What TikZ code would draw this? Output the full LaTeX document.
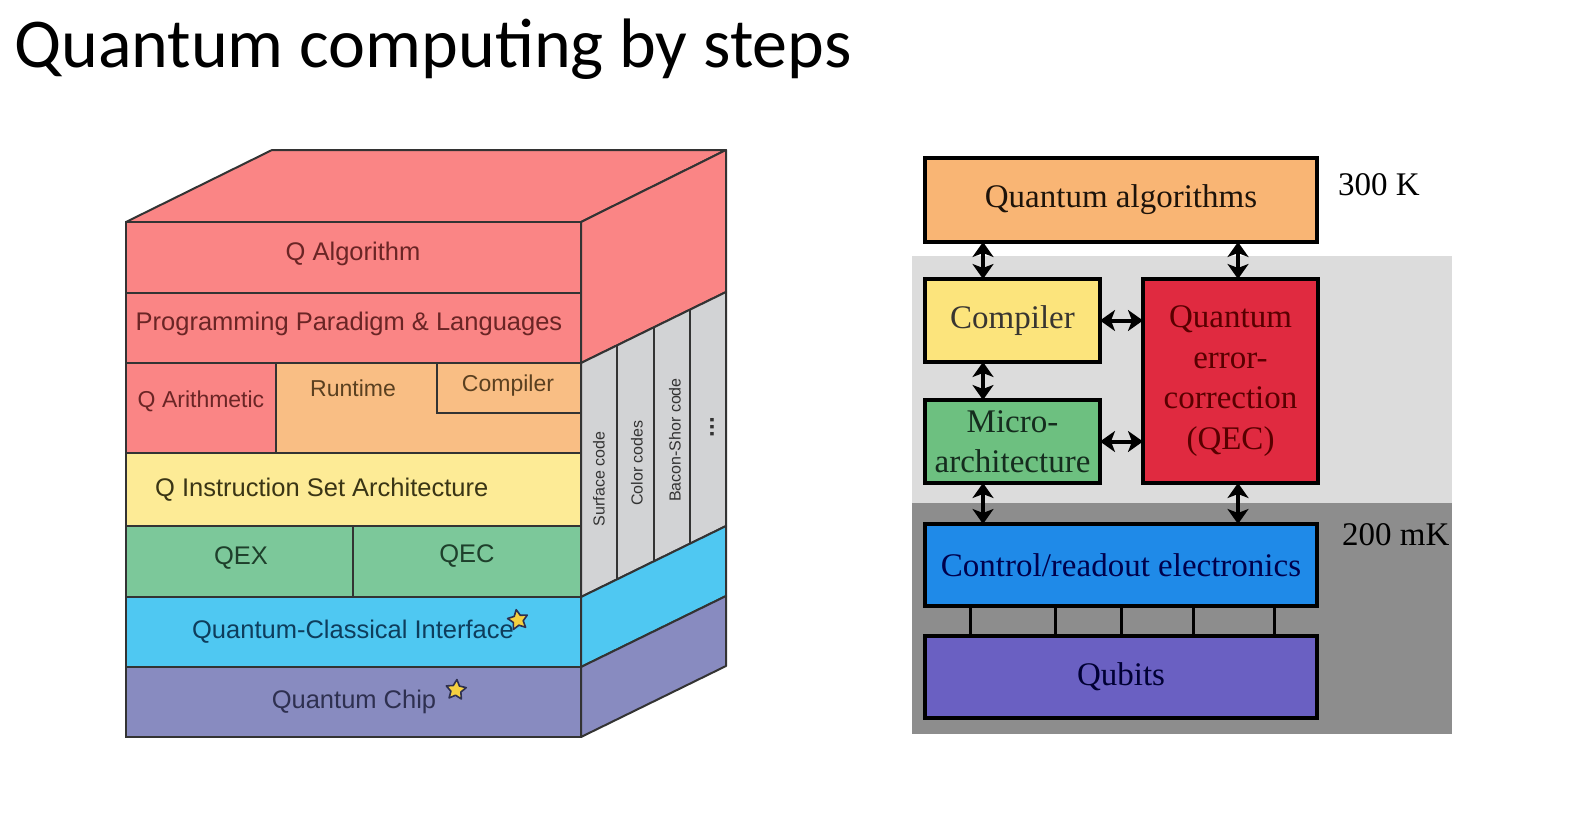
\documentclass[tikz,border=0pt]{standalone}
\usepackage{fontspec}
\setmainfont{Liberation Serif}
\newfontfamily\cubefont{Liberation Sans}
\newfontfamily\titlefont{Carlito}
\usetikzlibrary{arrows.meta,shapes.geometric}
\definecolor{cred}{HTML}{FA8585}
\definecolor{corange}{HTML}{F9BE84}
\definecolor{cyellow}{HTML}{FDEB96}
\definecolor{cgreen}{HTML}{7CC89A}
\definecolor{cblue}{HTML}{4FC8F2}
\definecolor{cpurple}{HTML}{888BC0}
\definecolor{cgray}{HTML}{D2D3D5}
\definecolor{cline}{HTML}{333333}
\definecolor{tred}{HTML}{6A2525}
\definecolor{torange}{HTML}{5A4020}
\definecolor{tyellow}{HTML}{3A3515}
\definecolor{tgreen}{HTML}{1E3F2B}
\definecolor{tblue}{HTML}{0E3D5C}
\definecolor{tpurple}{HTML}{2E3050}
\definecolor{panelL}{HTML}{DCDCDC}
\definecolor{panelD}{HTML}{8D8D8D}
\definecolor{ralg}{HTML}{F9B574}
\definecolor{rcomp}{HTML}{FCE47C}
\definecolor{rmicro}{HTML}{6DC080}
\definecolor{rqec}{HTML}{E02A40}
\definecolor{rctrl}{HTML}{1F8AE8}
\definecolor{rqubit}{HTML}{6A60C2}
\definecolor{starY}{HTML}{F5D040}
\tikzset{
  layer/.style={draw=cline, line width=2pt, inner sep=0pt, outer sep=0pt},
  side/.style={draw=cline, line width=2pt, line join=round},
  ctxt/.style={font=\cubefont\fontsize{25.5}{30}\selectfont, inner sep=0pt},
  stxt/.style={font=\cubefont\fontsize{23}{28}\selectfont, inner sep=0pt},
  coltxt/.style={font=\cubefont\fontsize{16}{19}\selectfont, inner sep=0pt, rotate=90, text=cline},
  rbox/.style={draw=black, line width=3.5pt, inner sep=0pt, outer sep=0pt, align=center,
    font=\fontsize{33}{40.5}\selectfont},
  dar/.style={line width=4pt, {Stealth[length=15pt,width=21pt,inset=4pt]}-{Stealth[length=15pt,width=21pt,inset=4pt]}},
  wire/.style={line width=3pt, draw=black},
  starnode/.style={star, star points=5, star point ratio=2.0, minimum size=21pt, inner sep=0pt,
    fill=starY, draw=tpurple, line width=1.6pt, line join=round},
  tlbl/.style={font=\fontsize{33}{40}\selectfont, inner sep=0pt}
}
\begin{document}
\begin{tikzpicture}[x=1pt,y=-1pt]
\useasboundingbox (0,0) rectangle (1583,822);
\fill[white] (0,0) rectangle (1583,822);

% title
\node[anchor=base west, inner sep=0pt, font=\titlefont\fontsize{70}{84}\selectfont] (title) at (14,67) {Quantum computing by steps};

% ---------- cube ----------
% top face
\path[side, fill=cred] (126,222) -- (272,150) -- (726,150) -- (581,222) -- cycle;
% side faces
\path[side, fill=cred] (581,222) -- (726,150) -- (726,292) -- (581,363) -- cycle;
\path[side, fill=cgray] (581,363) -- (726,292) -- (726,526) -- (581,597) -- cycle;
\path[side, fill=cblue] (581,597) -- (726,526) -- (726,596) -- (581,667) -- cycle;
\path[side, fill=cpurple] (581,667) -- (726,596) -- (726,666) -- (581,737) -- cycle;
\draw[cline, line width=2pt] (617.25,345.2) -- (617.25,579.2);
\draw[cline, line width=2pt] (653.5,327.5) -- (653.5,561.5);
\draw[cline, line width=2pt] (689.75,309.7) -- (689.75,543.7);
\node[coltxt] (sc) at (599,479) {Surface code};
\node[coltxt] (cc) at (637,463) {Color codes};
\node[coltxt] (bs) at (675,440) {Bacon-Shor code};
\node[coltxt, font=\cubefont\bfseries\fontsize{24}{24}\selectfont] (dots) at (712,427) {...};

% front face layers
\node[layer, fill=cred, minimum width=455pt, minimum height=71pt] (alg) at (353.5,257.5) {};
\node[ctxt, text=tred] (algt) at (353,254) {Q Algorithm};
\node[layer, fill=cred, minimum width=455pt, minimum height=70pt] (prog) at (353.5,328) {};
\node[ctxt, text=tred] (progt) at (349,324) {Programming Paradigm \& Languages};
\node[layer, fill=cred, minimum width=150pt, minimum height=90pt] (arith) at (201,408) {};
\node[stxt, text=tred] (aritht) at (201,401) {Q Arithmetic};
\node[layer, fill=corange, minimum width=305pt, minimum height=90pt] (run) at (428.5,408) {};
\node[stxt, text=torange] (runt) at (353,388) {Runtime};
\node[layer, fill=corange, minimum width=144pt, minimum height=50pt] (compl) at (509,388) {};
\node[stxt, text=torange] (complt) at (508,386) {Compiler};
\node[layer, fill=cyellow, minimum width=455pt, minimum height=73pt] (isa) at (353.5,489.5) {};
\node[ctxt, text=tyellow, anchor=west] (isat) at (155,490) {Q Instruction Set Architecture};
\node[layer, fill=cgreen, minimum width=227pt, minimum height=71pt] (qex) at (239.5,561.5) {};
\node[ctxt, text=tgreen] (qext) at (241,558) {QEX};
\node[layer, fill=cgreen, minimum width=228pt, minimum height=71pt] (qecl) at (467,561.5) {};
\node[ctxt, text=tgreen] (qeclt) at (467,556) {QEC};
\node[layer, fill=cblue, minimum width=455pt, minimum height=70pt] (qci) at (353.5,632) {};
\node[ctxt, text=tblue] (qcit) at (353,632) {Quantum-Classical Interface};
\node[layer, fill=cpurple, minimum width=455pt, minimum height=70pt] (chip) at (353.5,702) {};
\node[ctxt, text=tpurple] (chipt) at (354,702) {Quantum Chip};
\node[starnode, rotate=10] (star1) at (518,620) {};
\node[starnode, rotate=-5] (star2) at (456,690) {};

% ---------- right diagram ----------
\fill[panelL] (912,256) rectangle (1452,503);
\fill[panelD] (912,503) rectangle (1452,734);

\node[rbox, fill=ralg, text=black!85!brown, minimum width=392pt, minimum height=84pt] (qalg) at (1121,200) {Quantum algorithms};
\node[rbox, fill=rcomp, text=black!90!yellow, minimum width=175pt, minimum height=83pt] (comp) at (1012.5,320.5) {Compiler};
\node[rbox, fill=rmicro, text=tgreen!70!black, minimum width=175pt, minimum height=83pt] (micro) at (1012.5,441.5) {Micro-\\[-1pt]architecture};
\node[rbox, fill=rqec, text=red!35!black, minimum width=175pt, minimum height=204pt] (qecr) at (1230.5,381) {Quantum\\error-\\correction\\(QEC)};
\node[rbox, fill=rctrl, text=blue!30!black, minimum width=392pt, minimum height=82pt] (ctrl) at (1121,565) {Control/readout electronics};
\node[rbox, fill=rqubit, text=blue!20!black, minimum width=392pt, minimum height=82pt] (qubits) at (1121,677) {Qubits};

\node[tlbl, anchor=west] (t300) at (1338,185) {300 K};
\node[tlbl, anchor=west] (t200) at (1342,535) {200 mK};

\coordinate (ax1) at (983,0);
\coordinate (ax2) at (1238,0);
\draw[dar] (qalg.south -| ax1) -- (comp.north -| ax1);
\draw[dar] (qalg.south -| ax2) -- (qecr.north -| ax2);
\draw[dar] (comp.south -| ax1) -- (micro.north -| ax1);
\draw[dar] (micro.south -| ax1) -- (ctrl.north -| ax1);
\draw[dar] (qecr.south -| ax2) -- (ctrl.north -| ax2);
\draw[dar] (comp.east) -- (comp.east -| qecr.west);
\draw[dar] (micro.east) -- (micro.east -| qecr.west);

\foreach \i/\xx in {1/970,2/1055,3/1121,4/1193,5/1274}{
  \coordinate (w\i) at (\xx,0);
  \draw[wire] (ctrl.south -| w\i) -- (qubits.north -| w\i);
}
\end{tikzpicture}
\end{document}
